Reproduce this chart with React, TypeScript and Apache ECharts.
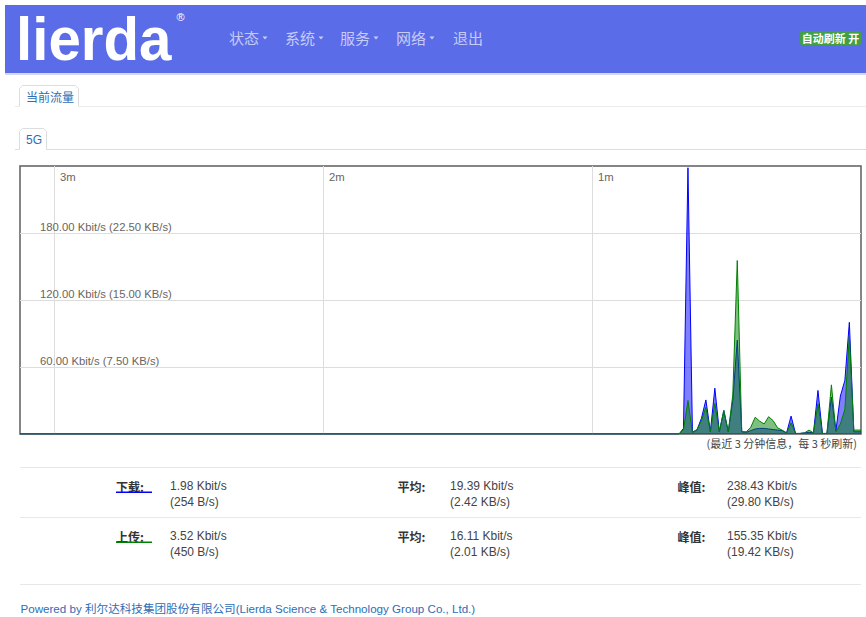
import React, { useEffect, useRef } from 'react';
import * as echarts from 'echarts';

// ---- chart data (one sample per second, graph shows ~3 minutes) ----
const graphSpan = 187.6; // graph width expressed in samples
const firstSample = 147; // index of first listed sample (all earlier samples are 0)
const downloadKbps = [
  0, 5, 238.43, 1.5, 3.5, 14, 30.5, 2, 41, 2, 21, 2, 30, 84, 2, 1.5, 3, 4.5, 5, 5,
  4.5, 4, 3.5, 3, 1, 16, 0.5, 0.5, 1, 1.5, 1, 39, 0.5, 0.5, 33, 3, 34, 48, 100, 1.98,
];
const uploadKbps = [
  0, 4, 30, 1.5, 4, 12, 24, 2, 27.5, 2, 21, 2, 35, 155.35, 2, 2, 6, 15, 11.5, 9,
  15.5, 12, 5.5, 3.5, 1, 10, 0.5, 0.5, 1, 3.5, 1, 27, 0.5, 0.5, 44, 2, 9, 22, 88, 3.52,
];
const yTicks = [60, 120, 180];
const timeTicksSec = [60, 120, 180];

// ---- page texts ----
const navItems = ['状态', '系统', '服务', '网络', '退出'];
const navX = [229, 285, 340, 396, 453];
const navCaret = [true, true, true, true, false];
const statLabels = ['下载:', '上传:'];
const avgLabel = '平均:';
const peakLabel = '峰值:';
const currentRates = [['1.98 Kbit/s', '(254 B/s)'], ['3.52 Kbit/s', '(450 B/s)']];
const averageRates = [['19.39 Kbit/s', '(2.42 KB/s)'], ['16.11 Kbit/s', '(2.01 KB/s)']];
const peakRates = [['238.43 Kbit/s', '(29.80 KB/s)'], ['155.35 Kbit/s', '(19.42 KB/s)']];
const caption = '(最近 3 分钟信息，每 3 秒刷新)';
const footer = 'Powered by 利尔达科技集团股份有限公司(Lierda Science & Technology Group Co., Ltd.)';

const FONT = "'Liberation Sans', 'Noto Sans CJK SC', sans-serif";
const CJK = "'Noto Sans CJK SC', 'Liberation Sans', sans-serif";

function toPoints(vals: number[]) {
  return [[0, 0], ...vals.map((v, i) => [firstSample + i, v]), [graphSpan, vals[vals.length - 1]]];
}

function txt(x: number, y: number, text: string, size: number, fill: string, extra: any = {}) {
  return {
    type: 'text',
    x,
    y,
    silent: true,
    style: {
      text,
      fill,
      fontSize: size,
      fontFamily: extra.family || FONT,
      fontWeight: extra.weight || 'normal',
      align: extra.align || 'left',
      verticalAlign: 'middle',
    },
  };
}

function hline(x1: number, x2: number, y: number, color: string) {
  return { type: 'line', silent: true, shape: { x1, y1: y, x2, y2: y }, style: { stroke: color, lineWidth: 1 } };
}

export default function App() {
  const ref = useRef<HTMLDivElement>(null);
  useEffect(() => {
    if (!ref.current) return;
    const chart = echarts.init(ref.current, undefined, { renderer: 'svg' });
    const els: any[] = [];
    const navColor = 'rgba(255,255,255,0.66)';
    // header
    els.push({ type: 'rect', shape: { x: 5, y: 5, width: 861, height: 68 }, style: { fill: '#5b6ce8' } });
    els.push({ type: 'rect', shape: { x: 5, y: 73, width: 861, height: 2 }, style: { fill: '#d6d9ec' } });
    els.push({
      type: 'text', x: 16, y: 38.5, scaleX: 0.94,
      style: { text: 'lierda', fill: '#ffffff', fontSize: 62, fontWeight: 'bold', fontFamily: "'Liberation Sans', sans-serif", verticalAlign: 'middle' },
    });
    els.push(txt(180.5, 17, '®', 11, '#ffffff', { align: 'center' }));
    navItems.forEach((t, i) => {
      els.push(txt(navX[i], 37.5, t, 15, navColor, { family: CJK }));
      if (navCaret[i]) {
        const cx = navX[i] + 36;
        els.push({ type: 'polygon', shape: { points: [[cx - 2.5, 36.5], [cx + 2.5, 36.5], [cx, 39.5]] }, style: { fill: navColor } });
      }
    });
    els.push({ type: 'rect', shape: { x: 800, y: 31, width: 61, height: 14, r: 2 }, style: { fill: '#42a042' } });
    els.push(txt(830.5, 38, '自动刷新 开', 11, '#ffffff', { family: CJK, weight: 'bold', align: 'center' }));

    // tabs
    els.push(hline(15, 19.5, 106.5, '#ececec'));
    els.push(hline(78.5, 866, 106.5, '#ececec'));
    els.push({ type: 'polyline', shape: { points: [[19.5, 106.5], [19.5, 88.5], [22.5, 85.5], [75.5, 85.5], [78.5, 88.5], [78.5, 106.5]] }, style: { stroke: '#dddddd', lineWidth: 1, fill: 'none' } });
    els.push(txt(26, 96.5, '当前流量', 12, '#2f6db5', { family: CJK }));
    els.push(hline(15, 19.5, 149.5, '#dddddd'));
    els.push(hline(46.5, 866, 149.5, '#dddddd'));
    els.push({ type: 'polyline', shape: { points: [[19.5, 149.5], [19.5, 131.5], [22.5, 128.5], [43.5, 128.5], [46.5, 131.5], [46.5, 149.5]] }, style: { stroke: '#dddddd', lineWidth: 1, fill: 'none' } });
    els.push(txt(26, 139.5, '5G', 12, '#2f6db5'));

    // caption
    els.push(txt(857, 443, caption, 11, '#444444', { family: CJK, align: 'right' }));

    // stats table
    els.push(hline(20, 861, 467.5, '#e8e8e8'));
    els.push(hline(20, 861, 517.5, '#e8e8e8'));
    els.push(hline(20, 861, 584.5, '#e8e8e8'));
    const rowY = [486, 536];
    const ulColor = ['#0000ff', '#008000'];
    [0, 1].forEach((r) => {
      const y = rowY[r];
      els.push(txt(116, y, statLabels[r], 12, '#333333', { family: CJK, weight: 'bold' }));
      els.push({ type: 'rect', shape: { x: 116, y: y + 5.5, width: 36, height: 1.5 }, style: { fill: ulColor[r] } });
      els.push(txt(170, y, currentRates[r][0], 12, '#444444'));
      els.push(txt(170, y + 15.5, currentRates[r][1], 12, '#444444'));
      els.push(txt(397.5, y, avgLabel, 12, '#333333', { family: CJK, weight: 'bold' }));
      els.push(txt(450, y, averageRates[r][0], 12, '#444444'));
      els.push(txt(450, y + 15.5, averageRates[r][1], 12, '#444444'));
      els.push(txt(677.5, y, peakLabel, 12, '#333333', { family: CJK, weight: 'bold' }));
      els.push(txt(727, y, peakRates[r][0], 12, '#444444'));
      els.push(txt(727, y + 15.5, peakRates[r][1], 12, '#444444'));
    });

    // footer
    els.push(txt(20.5, 608.5, footer, 11.6, '#2f6db5'));

    const axisText = { color: '#6b655f', fontSize: 11.3, fontFamily: FONT };
    chart.setOption({
      animation: false,
      graphic: { elements: els },
      grid: { left: 20, top: 166, width: 841, height: 268, show: true, borderColor: '#5e5e5e', borderWidth: 1.5, backgroundColor: 'transparent' },
      xAxis: [
        { type: 'value', min: 0, max: graphSpan, show: false },
        {
          type: 'value', inverse: true, position: 'top', min: 0, max: graphSpan, interval: 60,
          axisLine: { show: false }, axisTick: { show: false },
          splitLine: { show: true, showMinLine: false, showMaxLine: false, lineStyle: { color: '#dddddd', width: 1 } },
          axisLabel: {
            ...axisText, inside: true, align: 'left', verticalAlign: 'top', margin: 5, padding: [0, 0, 0, 6],
            formatter: (v: number) => (timeTicksSec.includes(v) ? `${v / 60}m` : ''),
          },
        },
      ],
      yAxis: {
        type: 'value', min: 0, max: 240, interval: 60,
        axisLine: { show: false }, axisTick: { show: false },
        splitLine: { show: true, showMinLine: false, showMaxLine: false, lineStyle: { color: '#dddddd', width: 1 } },
        axisLabel: {
          ...axisText, inside: true, align: 'left', verticalAlign: 'bottom', margin: 20,
          formatter: (v: number) => (yTicks.includes(v) ? `${v.toFixed(2)} Kbit/s (${(v / 8).toFixed(2)} KB/s)` : ''),
        },
      },
      series: [
        {
          type: 'line', name: '下载', xAxisIndex: 0, data: toPoints(downloadKbps), symbol: 'none', showSymbol: false, z: 2,
          lineStyle: { color: '#0000ff', width: 1 }, itemStyle: { color: '#0000ff' }, areaStyle: { color: '#0000ff', opacity: 0.5 },
        },
        {
          type: 'line', name: '上传', xAxisIndex: 0, data: toPoints(uploadKbps), symbol: 'none', showSymbol: false, z: 3,
          lineStyle: { color: '#008000', width: 1 }, itemStyle: { color: '#008000' }, areaStyle: { color: '#008000', opacity: 0.5 },
        },
      ],
    });
    return () => chart.dispose();
  }, []);
  return <div ref={ref} style={{ position: 'fixed', left: 0, top: 0, width: 866, height: 617, background: '#fff' }} />;
}
